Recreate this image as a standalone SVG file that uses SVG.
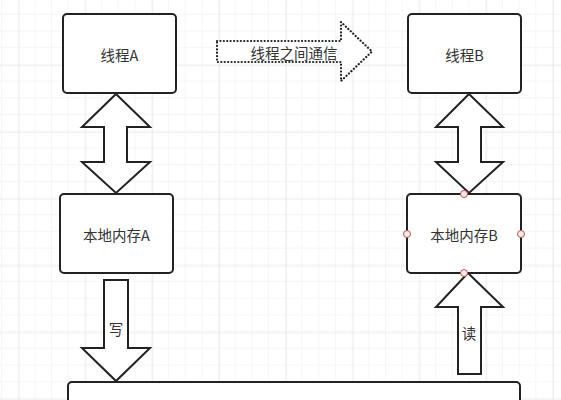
<svg xmlns="http://www.w3.org/2000/svg" width="561" height="400" viewBox="0 0 561 400">
<defs>
<pattern id="minor" x="1.9" y="-1.9" width="16.7" height="16.7" patternUnits="userSpaceOnUse">
<path d="M16.7 0V16.7M0 16.7H16.7" fill="none" stroke="#ededed" stroke-width="1"/>
</pattern>
<pattern id="major" x="18.6" y="-1.6" width="66.8" height="66.8" patternUnits="userSpaceOnUse">
<path d="M0 0V66.8M0 0H66.8" fill="none" stroke="#e4e4e4" stroke-width="1.2"/>
</pattern>
<style>
.box{fill:#fff;stroke:#222;stroke-width:2}
.arr{fill:#fff;stroke:#222;stroke-width:2;stroke-linejoin:miter}
.dot{fill:#fff;stroke:#222;stroke-width:2.2;stroke-dasharray:0.1 3.3;stroke-linecap:round}
.t{font-family:"Noto Sans CJK SC","Noto Sans",sans-serif;font-size:14.5px;fill:#333;text-anchor:middle;dominant-baseline:central}
.h{fill:#fbeaea;stroke:#b85450;stroke-width:1}
</style>
</defs>
<rect width="561" height="400" fill="#fff"/>
<rect width="561" height="400" fill="url(#minor)"/>
<rect width="561" height="400" fill="url(#major)"/>
<g id="connectors">
<path class="arr" d="M116 94L150 127H127V162H150L116 193L82 162H104V127H82Z"/>
<path class="arr" d="M469 94L503 127H481V162H503L469 193L436 162H458V127H436Z"/>
<path class="arr" d="M104 280H128V348H150L116 381L82 348H104Z"/>
<text class="t" x="116" y="328">写</text>
<path class="arr" d="M468 273L503 307H481V374H458V307H436Z"/>
<text class="t" x="469" y="332">读</text>
<g id="comm">
<path class="dot" d="M217 41H341V22L372 51.5L341 81V62H217Z"/>
<text class="t" x="294" y="52">线程之间通信</text>
</g>
</g>
<g id="threadA">
<rect class="box" x="63" y="14" width="113" height="79" rx="4"/>
<text class="t" x="119.5" y="54">线程A</text>
</g>
<g id="memA">
<rect class="box" x="60" y="194" width="113" height="79" rx="4"/>
<text class="t" x="116.5" y="234">本地内存A</text>
</g>
<g id="threadB">
<rect class="box" x="408" y="14" width="113" height="79" rx="4"/>
<text class="t" x="464.5" y="54">线程B</text>
</g>
<g id="memB">
<rect class="box" x="407" y="194" width="114" height="79" rx="4"/>
<text class="t" x="464" y="234">本地内存B</text>
<circle class="h" cx="464" cy="194" r="3.5"/>
<circle class="h" cx="464" cy="273" r="3.5"/>
<circle class="h" cx="407" cy="234" r="3.5"/>
<circle class="h" cx="521" cy="234" r="3.5"/>
</g>
<g id="mainMemory">
<rect class="box" x="68" y="382" width="452" height="60" rx="4"/>
</g>
</svg>
